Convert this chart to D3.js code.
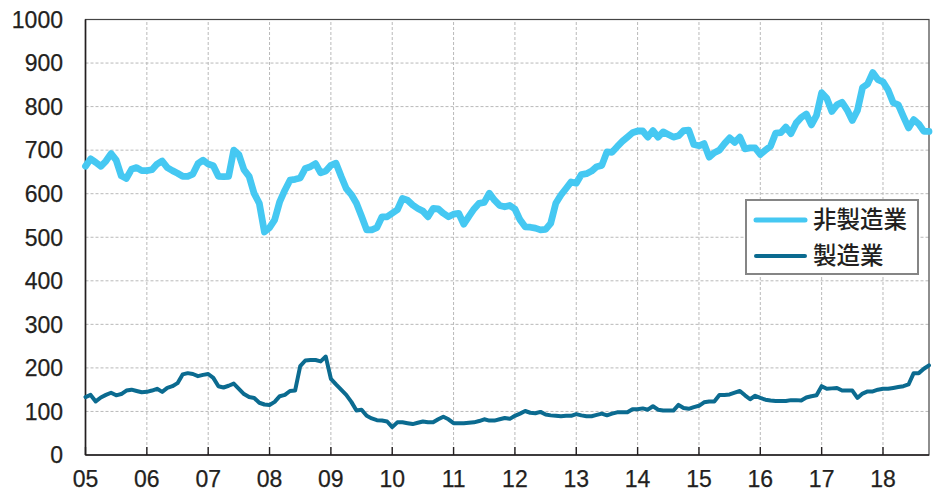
<!DOCTYPE html>
<html>
<head>
<meta charset="utf-8">
<script src="https://cdn.jsdelivr.net/npm/d3@7"></script>
<style>
  html, body { margin: 0; padding: 0; background: #fff; }
  svg { display: block; }
  .tick-label { font-family: "Liberation Sans", Arial, Helvetica, sans-serif; font-size: 23px; fill: #231f20; stroke: #231f20; stroke-width: 0.25px; }
  .legend-label { font-family: "Noto Sans CJK JP", sans-serif; font-size: 23.5px; font-weight: 500; fill: #231f20; }
</style>
</head>
<body>
<svg id="chart" width="941" height="494"></svg>
<script>
// Monthly series, Jan 2005 – Oct 2018
const startYear = 2005;
const nonManufacturing = [
  663, 680, 672, 663, 675, 692, 677, 641, 635, 656, 660, 653,
  653, 655, 668, 675, 660, 653, 647, 640, 640, 645, 669, 677,
  668, 664, 640, 639, 640, 700, 690, 655, 640, 600, 578, 512,
  522, 540, 582, 608, 631, 633, 636, 658, 662, 669, 648, 652,
  665, 670, 640, 612, 598, 578, 548, 517, 517, 522, 547, 547,
  555, 563, 589, 585, 574, 566, 560, 547, 566, 565, 555, 547,
  553, 555, 530, 548, 565, 578, 580, 601, 585, 573, 570, 573,
  565, 540, 524, 523, 521, 517, 518, 532, 578, 597, 612, 627,
  624, 644, 646, 652, 662, 665, 696, 695, 708, 720, 730, 740,
  744, 744, 730, 745, 730, 742, 736, 730, 733, 745, 746, 713,
  710, 715, 684, 694, 700, 715, 728, 718, 730, 703, 705, 705,
  690, 700, 709, 739, 740, 753, 738, 762, 775, 783, 758, 780,
  832, 819, 789, 804, 810, 792, 768, 791, 844, 852, 878, 862,
  857, 838, 809, 804, 777, 751, 770, 760, 743, 743
];
const manufacturing = [
  133, 138, 123, 132, 138, 143, 137, 140, 148, 150, 147, 144,
  145, 148, 152, 145, 154, 158, 165, 185, 188, 186, 181, 184,
  186, 177, 158, 155, 159, 164, 152, 140, 133, 131, 120, 116,
  115, 122, 135, 138, 147, 148, 204, 217, 218, 218, 215, 226,
  175, 162, 150, 138, 122, 102, 104, 90, 84, 80, 79, 77,
  64, 75, 75, 73, 71, 74, 77, 75, 75, 82, 88, 82,
  73, 73, 73, 74, 75, 78, 82, 79, 79, 82, 85, 83,
  90, 95, 101, 97, 96, 99, 93, 91, 90, 89, 90, 90,
  94, 91, 89, 89, 92, 95, 91, 95, 98, 98, 98, 105,
  105, 107, 104, 112, 104, 102, 102, 102, 115, 108, 106, 110,
  113, 121, 123, 123, 138, 138, 139, 143, 147, 137, 128, 136,
  131, 127, 125, 124, 124, 124, 126, 126, 125, 132, 135, 137,
  158, 152, 153, 154, 148, 148, 148, 131, 141, 146, 146, 150,
  152, 152, 154, 156, 158, 162, 188, 188, 198, 206
];
const yearLabels = ["05","06","07","08","09","10","11","12","13","14","15","16","17","18"];
const yTicks = [0, 100, 200, 300, 400, 500, 600, 700, 800, 900, 1000];
const seriesNames = ["非製造業", "製造業"];
const seriesColors = ["#45c8f2", "#0b6b90"];

const svg = d3.select("#chart");
const margin = { left: 85.5, right: 12, top: 19.5, bottom: 39 };
const W = 941, H = 494;
const innerW = W - margin.left - margin.right;
const innerH = H - margin.top - margin.bottom;

const lastMonth = nonManufacturing.length - 1;
const x = d3.scaleLinear().domain([0, lastMonth]).range([margin.left, margin.left + innerW]);
const y = d3.scaleLinear().domain([0, 1000]).range([margin.top + innerH, margin.top]);

// Grid
const grid = svg.append("g");
grid.selectAll("line.h").data(yTicks.slice(1, -1)).join("line")
  .attr("x1", x.range()[0]).attr("x2", x.range()[1])
  .attr("y1", d => y(d)).attr("y2", d => y(d))
  .attr("stroke", "#b9b9b9").attr("stroke-width", 1).attr("stroke-dasharray", "3,2");
grid.selectAll("line.v").data(yearLabels.slice(1)).join("line")
  .attr("x1", (d, i) => x((i + 1) * 12)).attr("x2", (d, i) => x((i + 1) * 12))
  .attr("y1", y(0)).attr("y2", y(1000))
  .attr("stroke", "#b9b9b9").attr("stroke-width", 1).attr("stroke-dasharray", "3,2");

// Frame
svg.append("rect")
  .attr("x", x.range()[0]).attr("y", y(1000))
  .attr("width", x.range()[1] - x.range()[0]).attr("height", y(0) - y(1000))
  .attr("fill", "none").attr("stroke", "#444").attr("stroke-width", 1.2);
svg.append("line").attr("x1", x.range()[0]).attr("x2", x.range()[0])
  .attr("y1", y(0)).attr("y2", y(1000)).attr("stroke", "#231f20").attr("stroke-width", 1.6);
svg.append("line").attr("x1", x.range()[0]).attr("x2", x.range()[1])
  .attr("y1", y(0)).attr("y2", y(0)).attr("stroke", "#231f20").attr("stroke-width", 1.6);

// X axis ticks (inward) and year labels
const xAxis = svg.append("g");
xAxis.selectAll("line").data(yearLabels).join("line")
  .attr("x1", (d, i) => x(i * 12)).attr("x2", (d, i) => x(i * 12))
  .attr("y1", y(0)).attr("y2", y(0) - 8)
  .attr("stroke", "#231f20").attr("stroke-width", 1.4);
xAxis.selectAll("text").data(yearLabels).join("text")
  .attr("class", "tick-label")
  .attr("x", (d, i) => x(i * 12)).attr("y", 487)
  .attr("text-anchor", "middle")
  .text(d => d);

// Y labels
svg.append("g").selectAll("text").data(yTicks).join("text")
  .attr("class", "tick-label")
  .attr("x", 63).attr("y", d => y(d))
  .attr("dy", "0.36em")
  .attr("text-anchor", "end")
  .text(d => d);

// Lines
const line = d3.line().x((d, i) => x(i)).y(d => y(d)).curve(d3.curveLinear);
svg.append("path").datum(manufacturing)
  .attr("fill", "none").attr("stroke", seriesColors[1]).attr("stroke-width", 4)
  .attr("stroke-linejoin", "round").attr("stroke-linecap", "round")
  .attr("d", line);
svg.append("path").datum(nonManufacturing)
  .attr("fill", "none").attr("stroke", seriesColors[0]).attr("stroke-width", 6.8)
  .attr("stroke-linejoin", "round").attr("stroke-linecap", "round")
  .attr("d", line);

// Legend
const legend = svg.append("g").attr("transform", "translate(746,200)");
legend.append("rect").attr("width", 172).attr("height", 74)
  .attr("fill", "#fff").attr("stroke", "#858585").attr("stroke-width", 2);
const rows = legend.selectAll("g.row").data(seriesNames).join("g")
  .attr("transform", (d, i) => `translate(0,${20 + i * 36})`);
rows.append("line").attr("x1", 10).attr("x2", 59).attr("y1", 0).attr("y2", 0)
  .attr("stroke", (d, i) => seriesColors[i])
  .attr("stroke-width", (d, i) => i === 0 ? 5 : 4)
  .attr("stroke-linecap", "round");
rows.append("text").attr("class", "legend-label")
  .attr("x", 67).attr("y", 0).attr("dy", "0.36em")
  .text(d => d);
</script>
</body>
</html>
